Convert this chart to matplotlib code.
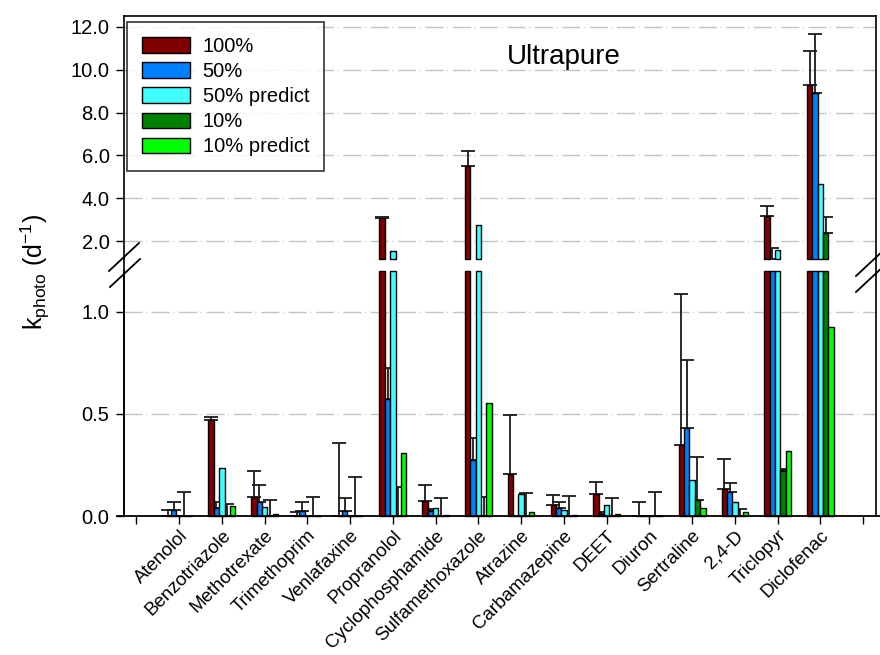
import numpy as np
import matplotlib
matplotlib.use('Agg')
import matplotlib.pyplot as plt
from matplotlib.lines import Line2D

plt.rcParams['font.family'] = ['Liberation Sans', 'DejaVu Sans']
plt.rcParams['mathtext.fontset'] = 'custom'
plt.rcParams['mathtext.rm'] = 'Liberation Sans'
plt.rcParams['mathtext.it'] = 'Liberation Sans'

labels = ['Atenolol', 'Benzotriazole', 'Methotrexate', 'Trimethoprim', 'Venlafaxine',
          'Propranolol', 'Cyclophosphamide', 'Sulfamethoxazole', 'Atrazine',
          'Carbamazepine', 'DEET', 'Diuron', 'Sertraline', '2,4-D', 'Triclopyr',
          'Diclofenac']

# rate constants (d-1) and standard deviations
k100 = [0, 0.472, 0.092, 0, 0, 3.10, 0.075, 5.53, 0.205, 0.054, 0.106, 0, 0.346, 0.13, 3.17, 9.27]
k100_err = [0.03, 0.013, 0.128, 0.02, 0.36, 0.05, 0.076, 0.66, 0.29, 0.048, 0.061, 0.07, 0.74, 0.15, 0.49, 1.58]
k50 = [0.03, 0.037, 0.067, 0.026, 0.026, 0.574, 0.025, 0.273, 0, 0.037, 0.012, 0, 0.43, 0.119, 1.2, 8.92]
k50_err = [0.038, 0.03, 0.084, 0.044, 0.062, 0.15, 0.01, 0.107, 0, 0.03, 0.01, 0, 0.334, 0.041, 0.47, 2.75]
k50_pred = [0, 0.236, 0.045, 0, 0, 1.55, 0.037, 2.78, 0.107, 0.028, 0.055, 0, 0.176, 0.067, 1.6, 4.65]
k10 = [0, 0, 0, 0, 0, 0, 0, 0, 0, 0, 0, 0, 0.078, 0, 0.222, 2.38]
k10_err = [0.118, 0.057, 0.078, 0.093, 0.19, 0.14, 0.09, 0.094, 0.113, 0.1, 0.09, 0.12, 0.21, 0.036, 0.01, 0.77]
k10_pred = [0, 0.05, 0.01, 0, 0, 0.31, 0.007, 0.555, 0.021, 0.005, 0.01, 0, 0.037, 0.018, 0.317, 0.924]

series = [
    ('100%', k100, k100_err, '#800000'),
    ('50%', k50, k50_err, '#0080ff'),
    ('50% predict', k50_pred, None, '#40ffff'),
    ('10%', k10, k10_err, '#008000'),
    ('10% predict', k10_pred, None, '#00ff00'),
]

BRK = 1.2        # axis break
W, H = 880, 655
fs = 14.5
fig = plt.figure(figsize=(W / 100, H / 100), dpi=100)
L, R = 123.5 / W, 876 / W
up_bot, up_top = 1 - 258.5 / H, 1 - 16 / H
lo_bot, lo_top = 1 - 516 / H, 1 - 271 / H
ax_up = fig.add_axes([L, up_bot, R - L, up_top - up_bot])
ax_lo = fig.add_axes([L, lo_bot, R - L, lo_top - lo_bot], sharex=ax_up)

x = np.arange(1, len(labels) + 1)
bw = 0.125
grid_style = dict(color='#c4c4c4', lw=1.0, linestyle=(0, (13, 2.5, 0.7, 3.5)), zorder=0)

for i, (name, vals, err, col) in enumerate(series):
    pos = x + (i - 2) * bw
    vals = np.array(vals)
    # lower segment is cut at the break, upper segment starts at it
    ax_lo.bar(pos, np.minimum(vals, BRK), bw, color=col, edgecolor='black',
              linewidth=1.0, zorder=3, clip_on=False)
    hi = vals > BRK
    ax_up.bar(pos[hi], vals[hi] - BRK, bw, bottom=BRK, color=col, edgecolor='black',
              linewidth=1.0, zorder=3, clip_on=False)
    ax_up.bar([np.nan], [0], bw, color=col, edgecolor='black', linewidth=1.0, label=name)
    if err is not None:
        err = np.array(err)
        m = err > 0
        for ax in (ax_up, ax_lo):
            ax.errorbar(pos[m], vals[m], yerr=[np.zeros(m.sum()), err[m]],
                        fmt='none', ecolor='#1a1a1a', elinewidth=1.3, capsize=5,
                        capthick=1.3, zorder=2)

for ax in (ax_up, ax_lo):
    ax.set_xlim(-0.3, 17.3)
    ax.tick_params(axis='both', direction='out', length=6, width=1, labelsize=fs, pad=4)
    for s in ax.spines.values():
        s.set_linewidth(1.2)

ax_up.set_ylim(BRK, 12.5)
ax_up.set_yticks(np.arange(2, 13, 2))
ax_up.set_yticklabels(['%.1f' % v for v in np.arange(2, 13, 2)])
for v in np.arange(2, 13, 2):
    ax_up.axhline(v, **grid_style)
ax_up.spines['bottom'].set_visible(False)
ax_up.spines['right'].set_visible(False)
ax_up.tick_params(axis='x', bottom=False, labelbottom=False)

ax_lo.set_ylim(0, BRK)
ax_lo.set_yticks([0, 0.5, 1.0])
ax_lo.set_yticklabels(['0.0', '0.5', '1.0'])
for v in [0.5, 1.0]:
    ax_lo.axhline(v, **grid_style)
ax_lo.spines['top'].set_visible(False)
ax_lo.spines['right'].set_visible(False)
ax_lo.spines['bottom'].set_visible(False)
ax_lo.set_xticks(np.arange(0, 18))
ax_lo.set_xticklabels([''] + labels + [''], rotation=45, ha='right',
                      rotation_mode='anchor', fontsize=13.5)
ax_lo.tick_params(axis='x', pad=2)

# continuous frame through the break, plus break marks
fig.add_artist(Line2D([L, L], [lo_bot, up_bot], transform=fig.transFigure, color='black', lw=1.2))
fig.add_artist(Line2D([R, R], [lo_bot, up_top], transform=fig.transFigure, color='black', lw=1.2))
fig.add_artist(Line2D([117 / W, 1.0], [lo_bot, lo_bot], transform=fig.transFigure, color='black', lw=1.3))
for cx, cy in [(124, 257), (125, 273), (871, 262), (871, 278)]:
    fig.add_artist(Line2D([(cx - 15) / W, (cx + 15) / W], [1 - (cy + 14) / H, 1 - (cy - 14) / H],
                          transform=fig.transFigure, color='black', lw=1.3))

ax_up.text(0.585, 0.83, 'Ultrapure', transform=ax_up.transAxes, ha='center',
           va='center', fontsize=20)

leg = ax_up.legend(loc='upper left', bbox_to_anchor=(127 / W, 1 - 22 / H),
                   bbox_transform=fig.transFigure, borderaxespad=0, fontsize=fs,
                   handlelength=2.4, handleheight=0.8, labelspacing=0.3,
                   handletextpad=0.6, borderpad=0.75, fancybox=False, frameon=True)
leg.get_frame().set_edgecolor('black')
leg.get_frame().set_linewidth(1.2)

fig.text(35 / W, 1 - 272 / H, r'$\mathregular{k_{photo}\ (d^{-1})}$', rotation=90,
         ha='center', va='center', fontsize=18)

fig.savefig('out.png', dpi=100)
